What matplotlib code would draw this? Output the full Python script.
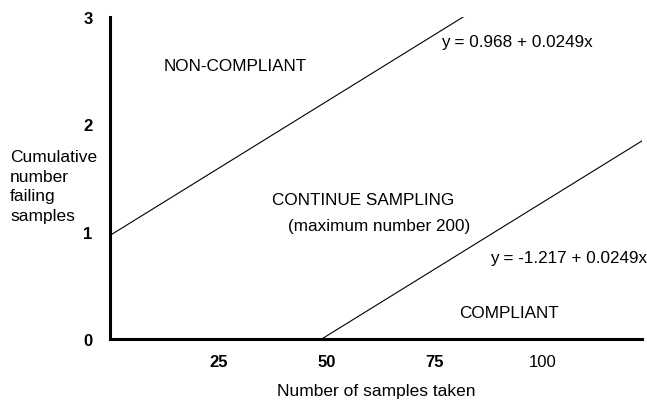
import matplotlib
matplotlib.use("Agg")
import matplotlib.pyplot as plt
import numpy as np

# sequential sampling plan: decision lines y = a + b*x
intercepts = [0.968, -1.217]
slope = 0.0249
eq_labels = ["y = 0.968 + 0.0249x", "y = -1.217 + 0.0249x"]

x_ticks = [25, 50, 75, 100]
x_tick_bold = [True, True, True, False]
y_ticks = [0, 1, 2, 3]
x_max = 123
y_max = 3

region_labels = ["NON-COMPLIANT", "CONTINUE SAMPLING", "(maximum number 200)", "COMPLIANT"]

plt.rcParams["font.family"] = ["Liberation Sans", "DejaVu Sans"]

fig = plt.figure(figsize=(6.47, 4.02), dpi=100)
ax = fig.add_axes([110.5 / 647, 62 / 402, (642 - 110.5) / 647, (340 - 18) / 402])

xs = np.array([0, x_max])
for a in intercepts:
    ax.plot(xs, a + slope * xs, color="black", lw=0.8)

ax.set_xlim(0, x_max)
ax.set_ylim(0, y_max)

for s in ["top", "right"]:
    ax.spines[s].set_visible(False)
for s in ["left", "bottom"]:
    ax.spines[s].set_linewidth(2.2)

ax.set_xticks(x_ticks)
ax.set_xticklabels([str(t) for t in x_ticks], fontsize=12)
for lab, bold in zip(ax.get_xticklabels(), x_tick_bold):
    lab.set_fontweight("bold" if bold else "normal")
ax.set_yticks(y_ticks)
ax.set_yticklabels([str(t) for t in y_ticks], fontsize=12, fontweight="bold")
ax.tick_params(axis="both", length=0)
ax.tick_params(axis="x", pad=11)
ax.tick_params(axis="y", pad=13)

ax.set_xlabel("Number of samples taken", fontsize=12.5, labelpad=10)
fig.text(10 / 647, 1 - 187 / 402, "Cumulative\nnumber\nfailing\nsamples",
         fontsize=12.5, ha="left", va="center", linespacing=1.4)

txt = dict(fontsize=12.3, ha="left", va="center")
ax.text(12.2, 2.55, region_labels[0], **txt)
ax.text(76.6, 2.77, eq_labels[0], **txt)
ax.text(37.3, 1.30, region_labels[1], **txt)
ax.text(41.0, 1.06, region_labels[2], **txt)
ax.text(87.8, 0.76, eq_labels[1], **txt)
ax.text(80.7, 0.25, region_labels[3], **txt)

fig.savefig("out.png", dpi=100)
